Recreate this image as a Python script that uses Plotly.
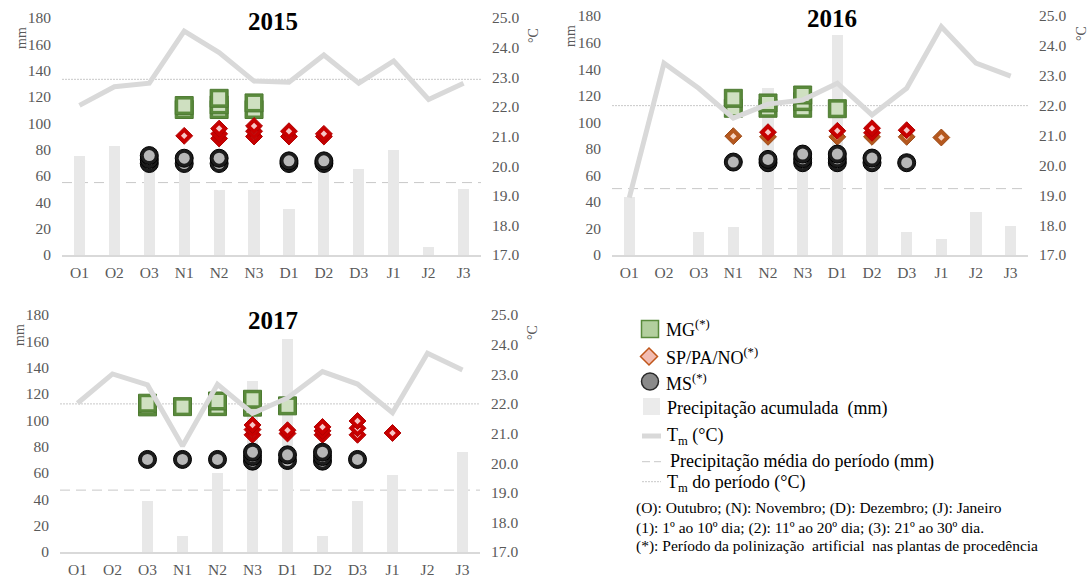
import plotly.graph_objects as go

# Ten-day periods (Oct-Jan)
periods = ["O1", "O2", "O3", "N1", "N2", "N3", "D1", "D2", "D3", "J1", "J2", "J3"]

# Accumulated precipitation per period (mm)
precip_2015 = [75, 83, 70, 68, 49, 49, 35, 68, 65, 80, 6, 50]
precip_2016 = [44, 0, 17.5, 21, 126, 66, 166, 70, 17.5, 12, 32.5, 22]
precip_2017 = [0, 0, 38.7, 12.4, 60.3, 130, 161.5, 12.2, 38.7, 58.5, 0, 75.7]

# Mean temperature per period (°C)
temp_2015 = [22.05, 22.68, 22.80, 24.56, 23.83, 22.87, 22.83, 23.75, 22.80, 23.55, 22.25, 22.80]
temp_2016 = [18.92, 23.42, 22.58, 21.58, 22.05, 22.19, 22.75, 21.69, 22.58, 24.64, 23.42, 22.99]
temp_2017 = [22.02, 23.01, 22.64, 20.58, 22.66, 21.68, 22.20, 23.09, 22.67, 21.70, 23.71, 23.14]

# Period averages
precip_mean = {"2015": 55, "2016": 50, "2017": 47}
temp_mean = {"2015": 22.93, "2016": 22.0, "2017": 22.0}

# Pollination records by origin, plotted on the mm scale (stacked entries per period)
mg_2015 = {"N1": [110.5, 113.5], "N2": [110.5, 114, 119], "N3": [110.5, 115.5]}
mg_2016 = {"N1": [110.5, 118], "N2": [110.5, 114.5], "N3": [110.5, 115.5, 120.5], "D1": [110.2]}
mg_2017 = {"O3": [110.2, 113], "N1": [110.4], "N2": [110.4, 114.7], "N3": [110, 116], "D1": [111]}

sp_2015 = {"N1": [90.5], "N2": [88.5, 92, 96], "N3": [90, 94, 98], "D1": [90, 94], "D2": [90, 92]}
sp_2016 = {"N2": [92.5], "D1": [93.5], "D2": [92, 95.5], "D3": [94]}
sp_2017 = {"N3": [89, 93, 96.5], "D1": [90, 92.5], "D2": [89, 92, 95], "D3": [89, 94, 99.5], "J1": [90.4]}

pano_2016 = {"N1": [89.5], "N2": [89], "D1": [89], "D2": [89], "D3": [89], "J1": [88.5]}

ms_2015 = {"O3": [69.5, 72.5, 75.5], "N1": [69.5, 73.5], "N2": [69.5, 73.5], "D1": [69.5, 71.5], "D2": [69.5, 71.5]}
ms_2016 = {"N1": [70], "N2": [69.5, 72], "N3": [69.5, 72.5, 76], "D1": [69.5, 72.5, 76], "D2": [69.5, 73], "D3": [69.5]}
ms_2017 = {"O3": [70.3], "N1": [70.3], "N2": [70.3], "N3": [69, 72.5, 75.8], "D1": [69.5, 73.8], "D2": [69, 72.5, 75.8], "D3": [70.3]}

W, H = 1091, 578
SERIF = "Liberation Serif"
TICK_GRAY = "#595959"


def px(x):
    return x / W


def py(y):
    return 1 - y / H


# Plot-area boxes in pixels: (left, right, top, bottom) and title centre
panels = {
    "2015": dict(box=(62, 481, 18, 255), title=(273, 21.5), xa="x", ya="y", ya2="y2",
                 precip=precip_2015, temp=temp_2015,
                 mg=mg_2015, sp=sp_2015, pano={}, ms=ms_2015),
    "2016": dict(box=(612, 1028, 16, 255), title=(832, 18), xa="x2", ya="y3", ya2="y4",
                 precip=precip_2016, temp=temp_2016,
                 mg=mg_2016, sp=sp_2016, pano=pano_2016, ms=ms_2016),
    "2017": dict(box=(60, 480, 315, 552), title=(273, 320.5), xa="x3", ya="y5", ya2="y6",
                 precip=precip_2017, temp=temp_2017,
                 mg=mg_2017, sp=sp_2017, pano={}, ms=ms_2017),
}

styles = {
    "mg": dict(symbol="square", size=18, color="#5a8a3c", line="#4d7a31",
               inner_symbol="square", inner_size=12, inner_color="#cfe0c1"),
    "pano": dict(symbol="diamond", size=13, color="#b5581e", line="#9c4a16",
                 inner_symbol="diamond", inner_size=5, inner_color="#f6d6c6"),
    "sp": dict(symbol="diamond", size=13, color="#c80000", line="#b00000",
               inner_symbol="diamond", inner_size=5, inner_color="#f6c6c6"),
    "ms": dict(symbol="circle", size=18, color="#1c1c1c", line="#000000",
               inner_symbol="circle", inner_size=11, inner_color="#b8b8b8"),
}

fig = go.Figure()
layout = dict(
    width=W, height=H, margin=dict(l=0, r=0, t=0, b=0, pad=0, autoexpand=False),
    paper_bgcolor="white", plot_bgcolor="white", showlegend=False,
    font=dict(family=SERIF, color=TICK_GRAY),
    bargap=0,
)
shapes = []
annotations = []


def axis_name(ref):
    return ref.replace("x", "xaxis").replace("y", "yaxis")


def add_stack(xa, ya, records, st):
    depth = max((len(v) for v in records.values()), default=0)
    for k in range(depth):
        xs, ys = [], []
        for per in periods:
            vals = sorted(records.get(per, []))
            if len(vals) > k:
                xs.append(per)
                ys.append(vals[k])
        fig.add_trace(go.Scatter(
            x=xs, y=ys, xaxis=xa, yaxis=ya, mode="markers", hoverinfo="skip",
            marker=dict(symbol=st["symbol"], size=st["size"], color=st["color"],
                        line=dict(color=st["line"], width=1))))
        fig.add_trace(go.Scatter(
            x=xs, y=ys, xaxis=xa, yaxis=ya, mode="markers", hoverinfo="skip",
            marker=dict(symbol=st["inner_symbol"], size=st["inner_size"],
                        color=st["inner_color"], line=dict(width=0))))


for year, p in panels.items():
    left, right, top, bottom = p["box"]
    xa, ya, ya2 = p["xa"], p["ya"], p["ya2"]

    fig.add_trace(go.Bar(x=periods, y=p["precip"], xaxis=xa, yaxis=ya,
                         width=0.32, marker=dict(color="#e8e8e8", line=dict(width=0)),
                         hoverinfo="skip"))
    fig.add_trace(go.Scatter(x=periods, y=p["temp"], xaxis=xa, yaxis=ya2,
                             mode="lines", line=dict(color="#d9d9d9", width=5),
                             hoverinfo="skip"))
    add_stack(xa, ya, p["mg"], styles["mg"])
    add_stack(xa, ya, p["pano"], styles["pano"])
    add_stack(xa, ya, p["sp"], styles["sp"])
    add_stack(xa, ya, p["ms"], styles["ms"])

    tickfont = dict(family=SERIF, size=15.5, color=TICK_GRAY)
    layout[axis_name(xa)] = dict(
        domain=[px(left), px(right)], anchor=ya, type="category",
        range=[-0.5, len(periods) - 0.5], showline=True, linecolor="#d9d9d9",
        linewidth=2, ticks="", showgrid=False, zeroline=False, automargin=False,
        tickfont=tickfont, ticklabelstandoff=2)
    layout[axis_name(ya)] = dict(
        domain=[py(bottom), py(top)], anchor=xa, range=[0, 180], dtick=20,
        tick0=0, showline=False, showgrid=False, zeroline=False, ticks="",
        automargin=False, tickfont=tickfont, ticklabelstandoff=10)
    layout[axis_name(ya2)] = dict(
        overlaying=ya, side="right", anchor=xa, range=[17, 25], dtick=1, tick0=17,
        tickformat=".1f", showline=False, showgrid=False, zeroline=False,
        ticks="", automargin=False, tickfont=tickfont, ticklabelstandoff=10)

    # Period average lines
    shapes.append(dict(type="line", xref=f"{xa} domain", x0=0, x1=1, yref=ya,
                       y0=precip_mean[year], y1=precip_mean[year], layer="below",
                       line=dict(color="#c8c8c8", width=1, dash="10px,6px")))
    shapes.append(dict(type="line", xref=f"{xa} domain", x0=0, x1=1, yref=ya2,
                       y0=temp_mean[year], y1=temp_mean[year], layer="below",
                       line=dict(color="#c8c8c8", width=1, dash="2px,1px")))

    # Year title and unit labels
    tx, ty = p["title"]
    annotations.append(dict(text=f"<b>{year}</b>", xref="paper", yref="paper",
                            x=px(tx), y=py(ty),
                            showarrow=False, xanchor="center", yanchor="middle",
                            font=dict(family=SERIF, size=25, color="black")))
    annotations.append(dict(text="mm", xref="paper", yref="paper",
                            x=px(left - 41), y=py(top + 20), textangle=-90,
                            showarrow=False, xanchor="center", yanchor="middle",
                            font=dict(family=SERIF, size=14, color=TICK_GRAY)))
    annotations.append(dict(text="°C", xref="paper", yref="paper",
                            x=px(right + 53), y=py(top + 18), textangle=-90,
                            showarrow=False, xanchor="center", yanchor="middle",
                            font=dict(family=SERIF, size=14, color=TICK_GRAY)))

# Legend block
LX = 650
leg_font = dict(family=SERIF, size=18, color="black")
shapes.append(dict(type="rect", xref="paper", yref="paper",
                   x0=px(LX - 8.5), x1=px(LX + 8.5), y0=py(337.5), y1=py(320.5),
                   fillcolor="#b3cf9e", line=dict(color="#5a8a3c", width=1.5)))
dcx, dcy, dr = LX - 1, 356.5, 8.5
shapes.append(dict(type="path", xref="paper", yref="paper",
                   path=(f"M {px(dcx)} {py(dcy - dr)} L {px(dcx + dr)} {py(dcy)} "
                         f"L {px(dcx)} {py(dcy + dr)} L {px(dcx - dr)} {py(dcy)} Z"),
                   fillcolor="#f2bcb2", line=dict(color="#c0561a", width=1.5)))
shapes.append(dict(type="circle", xref="paper", yref="paper",
                   x0=px(LX - 8.5), x1=px(LX + 8.5), y0=py(390), y1=py(373),
                   fillcolor="#8a8a8a", line=dict(color="#2a2a2a", width=1.5)))
shapes.append(dict(type="rect", xref="paper", yref="paper",
                   x0=px(643), x1=px(660), y0=py(415), y1=py(398),
                   fillcolor="#ebebeb", line=dict(width=0)))
shapes.append(dict(type="line", xref="paper", yref="paper",
                   x0=px(642), x1=px(661), y0=py(436), y1=py(436),
                   line=dict(color="#d9d9d9", width=5)))
shapes.append(dict(type="line", xref="paper", yref="paper",
                   x0=px(642), x1=px(661), y0=py(461.7), y1=py(461.7),
                   line=dict(color="#c8c8c8", width=1, dash="8px,4px")))
shapes.append(dict(type="line", xref="paper", yref="paper",
                   x0=px(642), x1=px(661), y0=py(481.7), y1=py(481.7),
                   line=dict(color="#c8c8c8", width=1, dash="2px,1px")))

legend_rows = [
    ("MG<sup>(*)</sup>", 664, 329),
    ("SP/PA/NO<sup>(*)</sup>", 664, 356),
    ("MS<sup>(*)</sup>", 664, 382),
    ("Precipitação acumulada&nbsp; (mm)", 665, 408),
    ("T<sub>m</sub> (°C)", 665, 436),
    ("Precipitação média do período (mm)", 668, 461.7),
    ("T<sub>m</sub> do período (°C)", 665, 483),
]
for text, x, y in legend_rows:
    annotations.append(dict(text=text, xref="paper", yref="paper", x=px(x), y=py(y),
                            showarrow=False, xanchor="left", yanchor="middle",
                            font=leg_font))

notes = [
    ("(O): Outubro; (N): Novembro; (D): Dezembro; (J): Janeiro", 507.5),
    ("(1): 1º ao 10º dia; (2): 11º ao 20º dia; (3): 21º ao 30º dia.", 527.5),
    ("(*): Período da polinização&nbsp; artificial&nbsp; nas plantas de procedência", 546),
]
for text, y in notes:
    annotations.append(dict(text=text, xref="paper", yref="paper", x=px(634), y=py(y),
                            showarrow=False, xanchor="left", yanchor="middle",
                            font=dict(family=SERIF, size=15.5, color="black")))

layout["shapes"] = shapes
layout["annotations"] = annotations
fig.update_layout(**layout)
fig.write_html("out.html")
